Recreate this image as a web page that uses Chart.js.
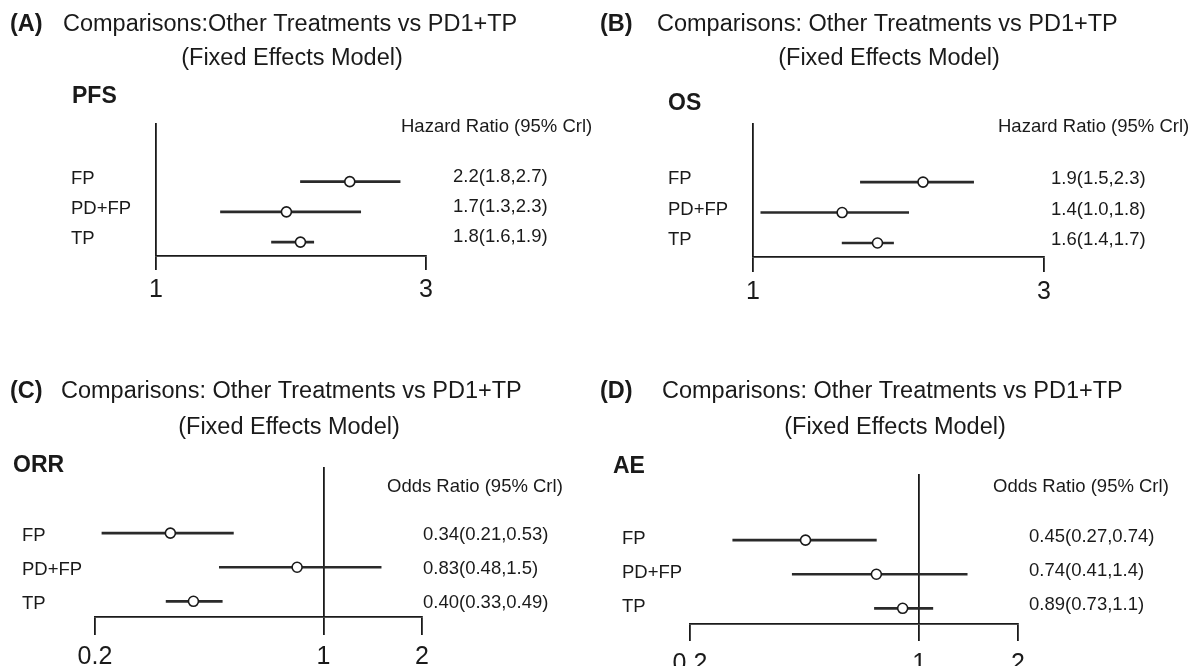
<!DOCTYPE html>
<html>
<head>
<meta charset="utf-8">
<script src="https://cdn.jsdelivr.net/npm/chart.js@4.4.1/dist/chart.umd.min.js"></script>
<style>
  html, body { margin: 0; padding: 0; background: #fff; }
  body { width: 1192px; height: 666px; position: relative; overflow: hidden; }
  canvas { position: absolute; }
</style>
</head>
<body>
<canvas id="pA" width="596" height="333" style="left:0px;top:0px"></canvas>
<canvas id="pB" width="596" height="333" style="left:596px;top:0px"></canvas>
<canvas id="pC" width="596" height="333" style="left:0px;top:333px"></canvas>
<canvas id="pD" width="596" height="333" style="left:596px;top:333px"></canvas>
<script>
// treatments compared against PD1+TP
var treatments = ["FP", "PD+FP", "TP"];

// PFS hazard ratios
var pfsEst  = [2.2, 1.7, 1.8];
var pfsLow  = [1.8, 1.3, 1.6];
var pfsHigh = [2.7, 2.3, 1.9];
var pfsText = ["2.2(1.8,2.7)", "1.7(1.3,2.3)", "1.8(1.6,1.9)"];

// OS hazard ratios
var osEst  = [1.9, 1.4, 1.6];
var osLow  = [1.5, 1.03, 1.4];
var osHigh = [2.3, 1.8, 1.7];
var osText = ["1.9(1.5,2.3)", "1.4(1.0,1.8)", "1.6(1.4,1.7)"];

// ORR odds ratios
var orrEst  = [0.34, 0.83, 0.40];
var orrLow  = [0.21, 0.48, 0.33];
var orrHigh = [0.53, 1.5, 0.49];
var orrText = ["0.34(0.21,0.53)", "0.83(0.48,1.5)", "0.40(0.33,0.49)"];

// AE odds ratios
var aeEst  = [0.45, 0.74, 0.89];
var aeLow  = [0.27, 0.41, 0.73];
var aeHigh = [0.74, 1.4, 1.1];
var aeText = ["0.45(0.27,0.74)", "0.74(0.41,1.4)", "0.89(0.73,1.1)"];

// axis ticks
var hrTicks = [1, 3];
var hrTickLabels = ["1", "3"];
var orTicks = [0.2, 1, 2];
var orTickLabels = ["0.2", "1", "2"];

var FONT = '"Liberation Sans", Arial, sans-serif';
var INK = "#1a1a1a";
var SUBTITLE = "(Fixed Effects Model)";
var W = 596, H = 333;

var panels = [
  { id: "pA", letter: "(A)", letterX: 10, title: "Comparisons:Other Treatments vs PD1+TP", titleX: 63, titleY: 25,
    subX: 292, subY: 59, outcome: "PFS", outX: 72, outY: 97, header: "Hazard Ratio (95% Crl)", headX: 401, headY: 127,
    est: pfsEst, low: pfsLow, high: pfsHigh, text: pfsText, ticks: hrTicks, tickLabels: hrTickLabels,
    labelX: 71, left: 156, right: 426, valueX: 453, top: 123, base: 256, tickLen: 14, tickPad: 5,
    labelShift: -3, valueShift: -5 },
  { id: "pB", letter: "(B)", letterX: 4, title: "Comparisons: Other Treatments vs PD1+TP", titleX: 61, titleY: 25,
    subX: 293, subY: 59, outcome: "OS", outX: 72, outY: 104, header: "Hazard Ratio (95% Crl)", headX: 402, headY: 127,
    est: osEst, low: osLow, high: osHigh, text: osText, ticks: hrTicks, tickLabels: hrTickLabels,
    labelX: 72, left: 157, right: 448, valueX: 455, top: 123, base: 257, tickLen: 15, tickPad: 5,
    labelShift: -3, valueShift: -3 },
  { id: "pC", letter: "(C)", letterX: 10, title: "Comparisons: Other Treatments vs PD1+TP", titleX: 61, titleY: 59,
    subX: 289, subY: 95, outcome: "ORR", outX: 13, outY: 133, header: "Odds Ratio (95% Crl)", headX: 387, headY: 154,
    est: orrEst, low: orrLow, high: orrHigh, text: orrText, ticks: orTicks, tickLabels: orTickLabels,
    labelX: 22, left: 95, right: 422, valueX: 423, top: 134, base: 284, tickLen: 18, tickPad: 7,
    labelShift: 3, valueShift: 2 },
  { id: "pD", letter: "(D)", letterX: 4, title: "Comparisons: Other Treatments vs PD1+TP", titleX: 66, titleY: 59,
    subX: 299, subY: 95, outcome: "AE", outX: 17, outY: 134, header: "Odds Ratio (95% Crl)", headX: 397, headY: 154,
    est: aeEst, low: aeLow, high: aeHigh, text: aeText, ticks: orTicks, tickLabels: orTickLabels,
    labelX: 26, left: 94, right: 422, valueX: 433, top: 141, base: 291, tickLen: 17, tickPad: 8,
    labelShift: -1, valueShift: -3 }
];

function makePanel(p) {
  var rows = treatments.map(function (t, i) { return i; });

  // headings drawn straight on the canvas
  var headings = {
    id: "headings",
    afterDraw: function (chart) {
      var c = chart.ctx;
      c.save();
      c.fillStyle = INK;
      c.textBaseline = "middle";
      c.textAlign = "left";
      c.font = "bold 23.5px " + FONT;
      c.fillText(p.letter, p.letterX, p.titleY);
      c.font = "23.5px " + FONT;
      c.fillText(p.title, p.titleX, p.titleY);
      c.textAlign = "center";
      c.fillText(SUBTITLE, p.subX, p.subY);
      c.textAlign = "left";
      c.font = "bold 23px " + FONT;
      c.fillText(p.outcome, p.outX, p.outY);
      c.font = "18.5px " + FONT;
      c.fillText(p.header, p.headX, p.headY);
      c.restore();
    }
  };

  new Chart(document.getElementById(p.id), {
    type: "scatter",
    data: {
      datasets: [
        {
          type: "scatter",
          yAxisID: "y",
          order: 0,
          data: rows.map(function (i) { return { x: p.est[i], y: i }; }),
          pointRadius: 5,
          pointBackgroundColor: "#ffffff",
          pointBorderColor: INK,
          pointBorderWidth: 1.6
        },
        {
          type: "bar",
          indexAxis: "y",
          yAxisID: "y",
          order: 1,
          data: rows.map(function (i) { return { x: [p.low[i], p.high[i]], y: i }; }),
          backgroundColor: "#2a2a2a",
          borderWidth: 0,
          barThickness: 2
        }
      ]
    },
    options: {
      responsive: false,
      animation: false,
      devicePixelRatio: 1,
      layout: { padding: { left: p.labelX, top: p.top, right: 0, bottom: 0 } },
      plugins: { legend: { display: false }, tooltip: { enabled: false } },
      scales: {
        x: {
          type: "logarithmic",
          position: "bottom",
          offset: false,
          min: p.ticks[0],
          max: p.ticks[p.ticks.length - 1],
          afterBuildTicks: function (s) { s.ticks = p.ticks.map(function (v) { return { value: v }; }); },
          afterFit: function (s) { s.height = H - p.base; },
          ticks: {
            autoSkip: false, maxRotation: 0, minRotation: 0,
            padding: p.tickPad, color: INK,
            font: { family: FONT, size: 25 },
            callback: function (v, i) { return p.tickLabels[i]; }
          },
          grid: {
            offset: false, drawOnChartArea: true, drawTicks: true,
            tickLength: p.tickLen, lineWidth: 1.8, tickColor: INK,
            color: function (ctx) { return ctx.tick && ctx.tick.value === 1 ? INK : "rgba(0,0,0,0)"; }
          },
          border: { display: true, color: INK, width: 1.8 }
        },
        y: {
          type: "linear",
          position: "left",
          reverse: true,
          offset: false,
          min: -1.94,
          max: 2.46,
          afterBuildTicks: function (s) { s.ticks = rows.map(function (i) { return { value: i }; }); },
          afterFit: function (s) { s.width = p.left - p.labelX; },
          ticks: {
            crossAlign: "far", padding: 0, labelOffset: p.labelShift, color: INK,
            font: { family: FONT, size: 18.5 },
            callback: function (v, i) { return treatments[i]; }
          },
          grid: { display: false, drawTicks: false },
          border: { display: false }
        },
        yr: {
          axis: "y",
          type: "linear",
          position: "right",
          reverse: true,
          offset: false,
          min: -1.94,
          max: 2.46,
          afterBuildTicks: function (s) { s.ticks = rows.map(function (i) { return { value: i }; }); },
          afterFit: function (s) { s.width = W - p.right; },
          ticks: {
            crossAlign: "near", padding: p.valueX - p.right, labelOffset: p.valueShift, color: INK,
            font: { family: FONT, size: 18.5 },
            callback: function (v, i) { return p.text[i]; }
          },
          grid: { display: false, drawTicks: false },
          border: { display: false }
        }
      }
    },
    plugins: [headings]
  });
}

panels.forEach(makePanel);
</script>
</body>
</html>
